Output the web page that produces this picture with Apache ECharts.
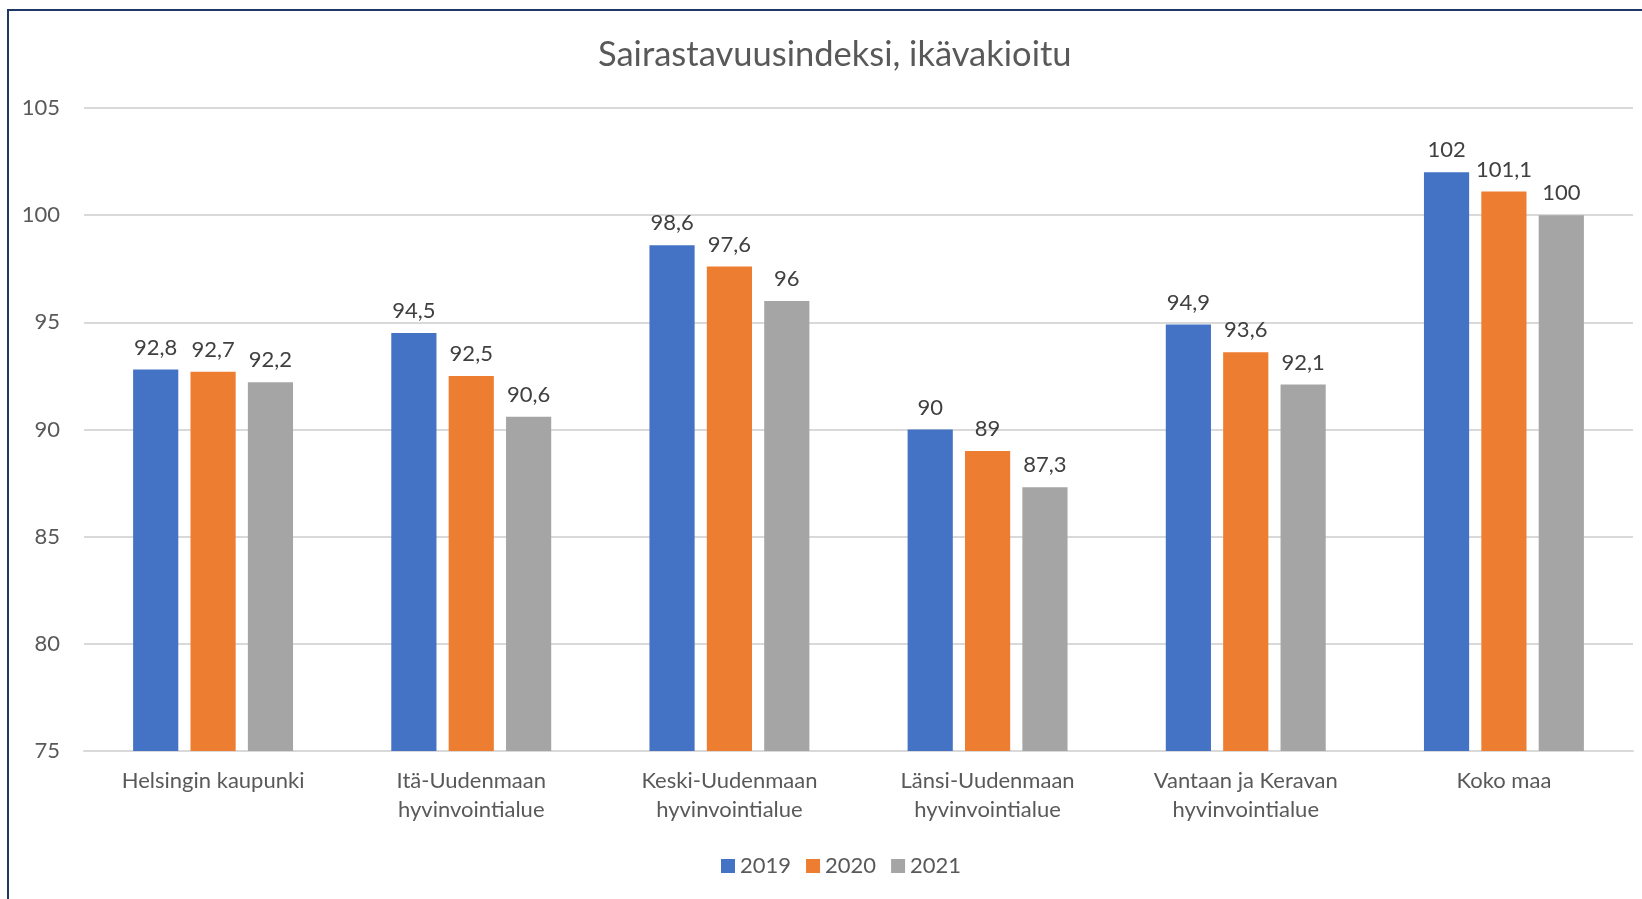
<!DOCTYPE html>
<html>
<head>
<meta charset="utf-8">
<script src="https://cdn.jsdelivr.net/npm/echarts@6/dist/echarts.min.js"></script>
<style>
  html, body { margin: 0; padding: 0; background: #fff; overflow: hidden; }
  #frame { position: absolute; left: 7px; top: 9px; width: 1700px; height: 960px;
           border-left: 2px solid #1F3864; border-top: 2px solid #1F3864; }
  #chart { position: absolute; left: 0; top: 0; width: 1642px; height: 899px; }
</style>
</head>
<body>
<div id="frame"></div>
<div id="chart"></div>
<script>
// Sairastavuusindeksi - pylväskaavio
const categories = [
  'Helsingin kaupunki',
  'Itä-Uudenmaan\nhyvinvointialue',
  'Keski-Uudenmaan\nhyvinvointialue',
  'Länsi-Uudenmaan\nhyvinvointialue',
  'Vantaan ja Keravan\nhyvinvointialue',
  'Koko maa'
];
const years = ['2019', '2020', '2021'];
const values2019 = [92.8, 94.5, 98.6, 90, 94.9, 102];
const values2020 = [92.7, 92.5, 97.6, 89, 93.6, 101.1];
const values2021 = [92.2, 90.6, 96, 87.3, 92.1, 100];
const colors = ['#4472C4', '#ED7D31', '#A5A5A5'];

const FONT = 'Lato, "Open Sans", sans-serif';

const chart = echarts.init(document.getElementById('chart'));

const makeSeries = (name, data, color) => ({
  name,
  type: 'bar',
  data,
  barWidth: '17.5%',
  barGap: '27%',
  itemStyle: { color },
  label: {
    show: true,
    position: 'top',
    distance: 11,
    color: '#404040',
    fontSize: 22,
    fontFamily: FONT,
    formatter: p => String(p.value).replace('.', ',')
  }
});

chart.setOption({
  animation: false,
  title: {
    text: 'Sairastavuusindeksi, ikävakioitu',
    left: 593,
    top: 32,
    textStyle: { color: '#595959', fontSize: 34.5, fontWeight: 'normal', fontFamily: FONT }
  },
  legend: {
    data: years,
    bottom: 17,
    left: 716,
    icon: 'rect',
    itemWidth: 14,
    itemHeight: 14,
    itemGap: 15,
    itemStyle: { borderWidth: 0 },
    textStyle: { color: '#595959', fontSize: 22, fontFamily: FONT }
  },
  grid: { left: 84, right: 9, top: 108, bottom: 148 },
  xAxis: {
    type: 'category',
    data: categories,
    axisLine: { lineStyle: { color: '#D9D9D9', width: 2 } },
    axisTick: { show: false },
    axisLabel: {
      color: '#595959',
      fontSize: 22,
      fontFamily: FONT,
      lineHeight: 29,
      margin: 15,
      interval: 0
    }
  },
  yAxis: {
    type: 'value',
    min: 75,
    max: 105,
    interval: 5,
    axisLine: { show: false },
    axisTick: { show: false },
    splitLine: { lineStyle: { color: '#D9D9D9', width: 2 } },
    axisLabel: { color: '#595959', fontSize: 22, fontFamily: FONT, margin: 24 }
  },
  series: [
    makeSeries(years[0], values2019, colors[0]),
    makeSeries(years[1], values2020, colors[1]),
    makeSeries(years[2], values2021, colors[2])
  ]
});
</script>
</body>
</html>
